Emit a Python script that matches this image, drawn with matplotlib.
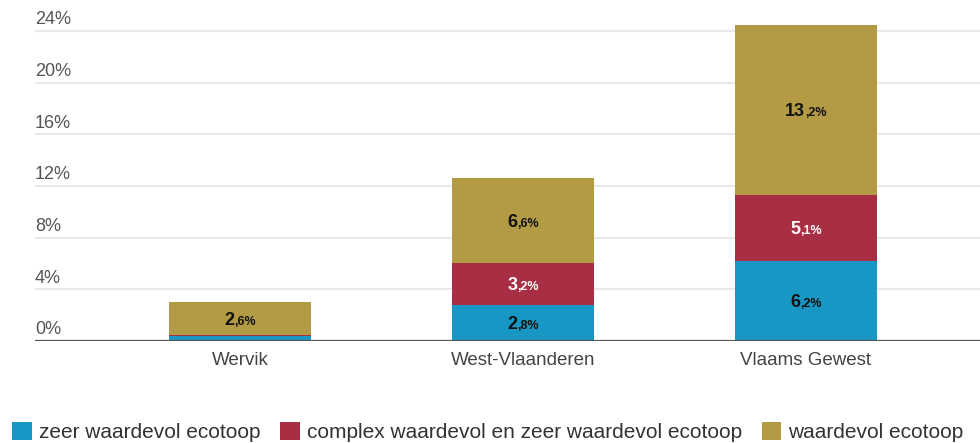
import matplotlib
matplotlib.use("Agg")
from matplotlib import pyplot as plt
from matplotlib.patches import Patch
from matplotlib import transforms

plt.rcParams['font.family'] = ['Liberation Sans', 'DejaVu Sans']

# data
categories = ['Wervik', 'West-Vlaanderen', 'Vlaams Gewest']
series_names = ['zeer waardevol ecotoop',
                'complex waardevol en zeer waardevol ecotoop',
                'waardevol ecotoop']
zeer_waardevol = [0.35, 2.8, 6.2]
complex_waardevol = [0.1, 3.2, 5.1]
waardevol = [2.6, 6.6, 13.2]
y_ticks = [0, 4, 8, 12, 16, 20, 24]

colors = ['#1897c4', '#a82f43', '#b39a45']
label_colors = ['#111111', '#ffffff', '#111111']

W, H = 980, 443
fig = plt.figure(figsize=(W / 100, H / 100), dpi=100)
ax = fig.add_axes([35 / W, (H - 341) / H, 1 - 35 / W, (341 - 20) / H])

x = list(range(len(categories)))
series = [zeer_waardevol, complex_waardevol, waardevol]
bottoms = [0.0] * len(categories)
segments = []
for vals, col, tcol in zip(series, colors, label_colors):
    ax.bar(x, vals, width=0.5, bottom=bottoms, color=col, zorder=3)
    for i, v in enumerate(vals):
        if v >= 1:
            segments.append((i, bottoms[i] + v / 2, v, tcol))
    bottoms = [b + v for b, v in zip(bottoms, vals)]

ax.set_xlim(-0.724, 2.615)
ax.set_ylim(0, 24.85)

# grid + baseline
for t in y_ticks[1:]:
    ax.axhline(t, color='#e8e8e8', lw=1.5, zorder=1)
ax.axhline(0, color='#555555', lw=1.6, zorder=4)

for s in ax.spines.values():
    s.set_visible(False)
ax.set_yticks([])
ax.set_xticks(x)
ax.set_xticklabels(categories, fontsize=13.5, color='#444444')
ax.tick_params(axis='x', length=0, pad=8)

# y tick labels sit above the grid lines
trans = transforms.blended_transform_factory(ax.transAxes, ax.transData)
for t in y_ticks:
    ax.annotate(f'{t}%', xy=(0, t), xycoords=trans, xytext=(0, 2),
                textcoords='offset points', ha='left', va='bottom',
                fontsize=13, color='#555555')

# value labels: big integer part, small decimal part
renderer = fig.canvas.get_renderer()
for i, ymid, v, tcol in segments:
    whole, dec = f'{v:.1f}'.split('.')
    t1 = ax.annotate(whole, xy=(i, ymid), xytext=(0, -4.5), textcoords='offset points',
                     ha='left', va='baseline', fontsize=13, fontweight='bold',
                     color=tcol, zorder=5)
    t2 = ax.annotate(f',{dec}%', xy=(i, ymid), xytext=(0, -4.5), textcoords='offset points',
                     ha='left', va='baseline', fontsize=9, fontweight='bold',
                     color=tcol, zorder=5)
    w1 = t1.get_window_extent(renderer).width * 72 / 100
    w2 = t2.get_window_extent(renderer).width * 72 / 100
    t1.set_position((-(w1 + w2) / 2, -4.5))
    t2.set_position((-(w1 + w2) / 2 + w1, -4.5))

handles = [Patch(facecolor=c, edgecolor='none') for c in colors]
fig.legend(handles, series_names, loc='center left',
           bbox_to_anchor=(12 / W, 1 - 432 / H), ncol=3, frameon=False,
           fontsize=15, handlelength=0.95, handleheight=0.95,
           handletextpad=0.33, columnspacing=0.95, borderpad=0,
           borderaxespad=0, labelcolor='#333333')

fig.savefig('out.png', dpi=100)
